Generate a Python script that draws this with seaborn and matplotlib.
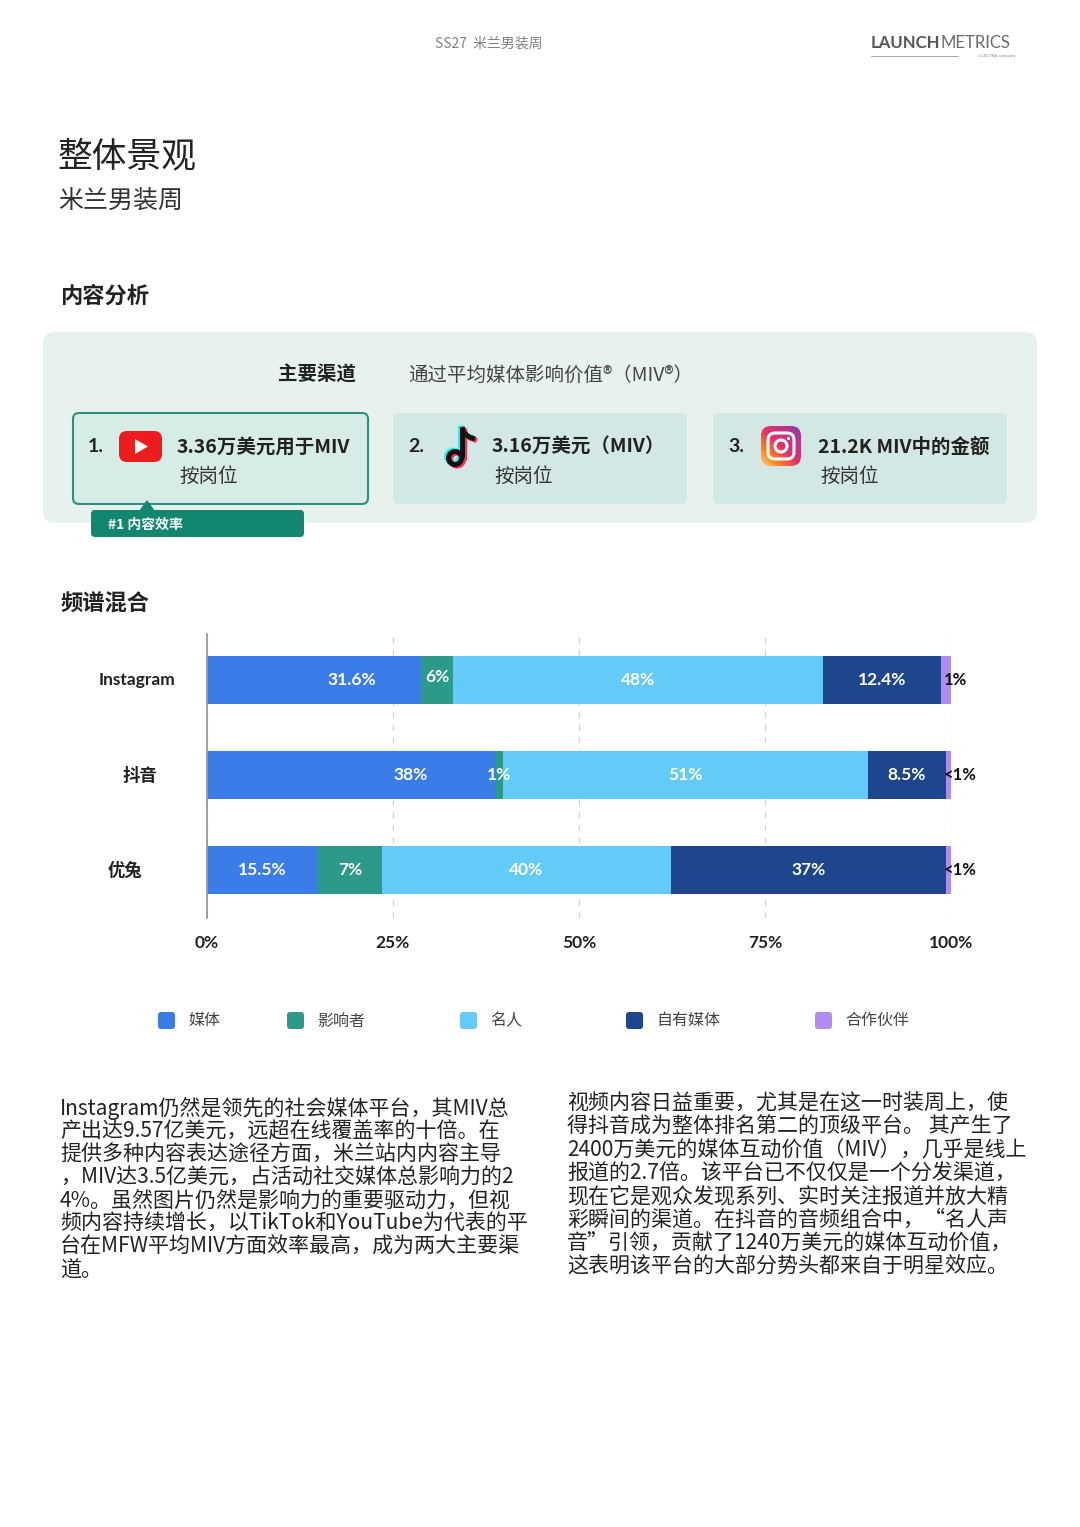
import numpy as np
import pandas as pd
import matplotlib
matplotlib.use('Agg')
import matplotlib.pyplot as plt
import seaborn as sns
from matplotlib.patches import FancyBboxPatch, Polygon, Circle
from matplotlib.lines import Line2D
from matplotlib.colors import LinearSegmentedColormap
from matplotlib.transforms import blended_transform_factory

# ---------------- data ----------------
categories = ['Instagram', '抖音', '优兔']
segments = ['媒体', '影响者', '名人', '自有媒体', '合作伙伴']
media = [28.9, 38.8, 14.9]
influencer = [4.2, 1.0, 8.6]
celebrity = [49.7, 49.0, 38.8]
owned = [15.9, 10.5, 37.0]
partner = [1.3, 0.7, 0.7]
media_labels = ['31.6%', '38%', '15.5%']
influencer_labels = ['6%', '1%', '7%']
celebrity_labels = ['48%', '51%', '40%']
owned_labels = ['12.4%', '8.5%', '37%']
partner_labels = ['1%', '<1%', '<1%']
x_ticks = [0, 25, 50, 75, 100]
x_ticklabels = ['0%', '25%', '50%', '75%', '100%']

channel_ranks = ['1.', '2.', '3.']
channel_values = ['3.36万美元用于MIV', '3.16万美元（MIV）', '21.2K MIV中的金额']
channel_sub = ['按岗位', '按岗位', '按岗位']

para_left = [
    'Instagram仍然是领先的社会媒体平台，其MIV总',
    '产出达9.57亿美元，远超在线覆盖率的十倍。在',
    '提供多种内容表达途径方面，米兰站内内容主导',
    '，MIV达3.5亿美元，占活动社交媒体总影响力的2',
    '4%。虽然图片仍然是影响力的重要驱动力，但视',
    '频内容持续增长，以TikTok和YouTube为代表的平',
    '台在MFW平均MIV方面效率最高，成为两大主要渠',
    '道。',
]
para_right = [
    '视频内容日益重要，尤其是在这一时装周上，使',
    '得抖音成为整体排名第二的顶级平台。 其产生了',
    '2400万美元的媒体互动价值（MIV），几乎是线上',
    '报道的2.7倍。该平台已不仅仅是一个分发渠道，',
    '现在它是观众发现系列、实时关注报道并放大精',
    '彩瞬间的渠道。在抖音的音频组合中，“名人声',
    '音”引领，贡献了1240万美元的媒体互动价值，',
    '这表明该平台的大部分势头都来自于明星效应。',
]

colors = ['#3b7de8', '#2c9a88', '#63caf9', '#1e468c', '#b18cf0']

# ---------------- setup ----------------
sns.set_theme(style='white')
plt.rcParams['font.family'] = ['Noto Sans CJK SC', 'DejaVu Sans']
LATO = ['Lato', 'Noto Sans CJK SC', 'DejaVu Sans']
CJK = ['Noto Sans CJK SC', 'DejaVu Sans']

W, H = 1080, 1527
fig = plt.figure(figsize=(W / 100, H / 100), dpi=100)
fig.patch.set_facecolor('white')

bg = fig.add_axes([0, 0, 1, 1])
bg.set_xlim(0, W)
bg.set_ylim(H, 0)
bg.axis('off')

# header
bg.text(489, 44, 'SS27  米兰男装周', ha='center', va='center', fontsize=10,
        color='#808080', family=CJK)
bg.text(871, 43, 'LAUNCH', ha='left', va='center', fontsize=12, color='#555555',
        family=LATO, fontweight='bold')
bg.text(940, 43, 'METRICS', ha='left', va='center', fontsize=12, color='#6a6a6a',
        family=LATO, fontweight='normal')
bg.add_line(Line2D([871, 958], [56, 56], color='#999999', lw=0.6))
bg.text(1015, 56, 'a LECTRA company', ha='right', va='center', fontsize=3.2,
        color='#888888', family=LATO)

# titles
bg.text(58, 157, '整体景观', ha='left', va='center', fontsize=25, color='#222222', family=CJK)
bg.text(58, 201, '米兰男装周', ha='left', va='center', fontsize=18, color='#333333', family=CJK)
bg.text(60, 296, '内容分析', ha='left', va='center', fontsize=16, color='#222222',
        family=CJK, fontweight='bold')
bg.text(60, 604, '频谱混合', ha='left', va='center', fontsize=16, color='#222222',
        family=CJK, fontweight='bold')

# top channel panel
bg.add_patch(FancyBboxPatch((43, 332), 994, 191, boxstyle='round,pad=0,rounding_size=12',
                            fc='#e7f2ef', ec='none', zorder=1))
bg.text(278, 375, '主要渠道', ha='left', va='center', fontsize=14, color='#222222',
        family=CJK, fontweight='bold')
bg.text(408, 375, '通过平均媒体影响价值®（MIV®）', ha='left', va='center', fontsize=14,
        color='#444444', family=CJK)

card_x = [73, 393, 713]
for i, cx in enumerate(card_x):
    if i == 0:
        p = FancyBboxPatch((cx, 413), 295, 91, boxstyle='round,pad=0,rounding_size=6',
                           fc='#d7ebe7', ec='#2f8f7d', lw=1.5, zorder=2)
    else:
        p = FancyBboxPatch((cx, 413), 294, 91, boxstyle='round,pad=0,rounding_size=6',
                           fc='#d3e7e4', ec='none', zorder=2)
    bg.add_patch(p)
    bg.text(cx + 15, 446, channel_ranks[i], ha='left', va='center', fontsize=14,
            color='#222222', family=LATO, fontweight='bold', zorder=5)
    tx = cx + (104 if i == 0 else 99 if i == 1 else 105)
    bg.text(tx, 447, channel_values[i], ha='left', va='center', fontsize=14,
            color='#222222', family=CJK, fontweight='bold', zorder=5)
    bg.text(tx + 2, 476, channel_sub[i], ha='left', va='center', fontsize=14,
            color='#333333', family=CJK, zorder=5)

# YouTube icon
bg.add_patch(FancyBboxPatch((119, 431), 43, 31, boxstyle='round,pad=0,rounding_size=8',
                            fc='#ee1d1d', ec='none', zorder=4))
bg.add_patch(Polygon([(135, 439), (135, 454), (148, 446.5)], closed=True, fc='white',
                     ec='none', zorder=5))

# TikTok icon
def tiktok(dx, dy, col):
    bg.add_line(Line2D([462 + dx, 462 + dx], [427 + dy, 458 + dy], color=col, lw=3.6,
                       solid_capstyle='butt', zorder=5))
    bg.add_patch(Circle((455 + dx, 458 + dy), 6.5, fill=False, ec=col, lw=3.6, zorder=5))
    bg.add_line(Line2D([462 + dx, 464 + dx, 469 + dx, 475 + dx],
                       [427 + dy, 433 + dy, 437 + dy, 439 + dy], color=col, lw=3.6,
                       solid_capstyle='butt', zorder=5))

tiktok(-2, -1.5, '#25f4ee')
tiktok(2, 1.5, '#fe2c55')
tiktok(0, 0, '#111111')

# Instagram icon
N = 64
ii, jj = np.mgrid[0:N, 0:N]
tgrad = (jj + (N - 1 - ii)) / (2 * (N - 1))
igcmap = LinearSegmentedColormap.from_list('ig', ['#fdd074', '#fa7e1e', '#e1306c', '#c13584', '#833ab4'])
clip = FancyBboxPatch((761, 426), 40, 40, boxstyle='round,pad=0,rounding_size=10',
                      fc='none', ec='none', zorder=4)
bg.add_patch(clip)
im = bg.imshow(igcmap(tgrad), extent=[761, 801, 466, 426], origin='upper', zorder=4,
               aspect='auto', interpolation='bilinear')
im.set_clip_path(clip)
bg.set_xlim(0, W)
bg.set_ylim(H, 0)
bg.add_patch(FancyBboxPatch((768, 433), 26, 26, boxstyle='round,pad=0,rounding_size=7',
                            fill=False, ec='white', lw=2.2, zorder=5))
bg.add_patch(Circle((781, 446), 6, fill=False, ec='white', lw=2.2, zorder=5))
bg.add_patch(Circle((788.5, 438.5), 1.6, fc='white', ec='none', zorder=5))

# badge
bg.add_patch(Polygon([(139, 511), (155, 511), (147, 500)], closed=True, fc='#11876f',
                     ec='none', zorder=6))
bg.add_patch(FancyBboxPatch((91, 510), 213, 27, boxstyle='round,pad=0,rounding_size=4',
                            fc='#11876f', ec='none', zorder=6))
bg.text(108, 525, '#1 内容效率', ha='left', va='center', fontsize=10, color='white',
        family=CJK, fontweight='bold', zorder=7)

# ---------------- chart ----------------
ax_l, ax_r, ax_t, ax_b = 207, 951, 634, 918
ax = fig.add_axes([ax_l / W, 1 - ax_b / H, (ax_r - ax_l) / W, (ax_b - ax_t) / H])
ax.set_facecolor('none')

series = [media, influencer, celebrity, owned, partner]
stack = np.cumsum(np.array(series), axis=0)
for k in reversed(range(len(segments))):
    df = pd.DataFrame({'category': categories, 'value': stack[k]})
    sns.barplot(data=df, x='value', y='category', orient='h', color=colors[k],
                saturation=1, width=0.505, errorbar=None, ax=ax, linewidth=0)

ax.set_xlim(0, 100)
ax.set_ylim(2.505, -0.484)
ax.set_xticks(x_ticks)
ax.set_xticklabels(x_ticklabels, family=LATO, fontweight='bold', fontsize=12.5,
                   color='#222222')
ax.tick_params(axis='x', length=0, pad=12.5)
ax.set_yticks([])
ax.set_xlabel('')
ax.set_ylabel('')
ax.set_axisbelow(True)
ax.xaxis.grid(True, linestyle=(0, (5, 5)), color='#d4d4d4', lw=0.9)
ax.yaxis.grid(False)
for s in ['top', 'right', 'bottom']:
    ax.spines[s].set_visible(False)
ax.spines['left'].set_color('#9a9a9a')
ax.spines['left'].set_linewidth(1.3)

trans = blended_transform_factory(ax.transAxes, ax.transData)
cat_x = [-0.094, -0.09, -0.11]
for i, cat in enumerate(categories):
    ax.text(cat_x[i], i, cat, transform=trans, ha='center', va='center', fontsize=12.5,
            family=LATO, fontweight='bold', color='#222222')

label_sets = [media_labels, influencer_labels, celebrity_labels, owned_labels]
media_shift = [5.0, 8.0, 0.0]
for k, labs in enumerate(label_sets):
    for i, lab in enumerate(labs):
        start = stack[k][i] - series[k][i]
        cx = start + series[k][i] / 2
        if k == 0:
            cx += media_shift[i]
        yoff = -0.03 if (k == 1 and i == 0) else 0
        ax.text(cx, i + yoff, lab, ha='center', va='center', fontsize=12.5, family=LATO,
                fontweight='bold', color='white')
for i, lab in enumerate(partner_labels):
    ax.text(99.0, i, lab, ha='left', va='center', fontsize=12, family=LATO,
            fontweight='bold', color='#111111')

# ---------------- legend ----------------
leg_x = [158, 287, 460, 626, 815]
for k, name in enumerate(segments):
    bg.add_patch(FancyBboxPatch((leg_x[k], 1012), 17, 17, boxstyle='round,pad=0,rounding_size=3',
                                fc=colors[k], ec='none'))
    bg.text(leg_x[k] + 30, 1021, name, ha='left', va='center', fontsize=11.5,
            color='#444444', family=CJK)

# ---------------- paragraphs ----------------
for n, line in enumerate(para_left):
    bg.text(60, 1108 + n * 23.2, line, ha='left', va='center', fontsize=15.1,
            color='#222222', family=CJK)
for n, line in enumerate(para_right):
    bg.text(567, 1104 + n * 23.2, line, ha='left', va='center', fontsize=15.1,
            color='#222222', family=CJK)

fig.savefig('out.png', dpi=100, facecolor='white')
